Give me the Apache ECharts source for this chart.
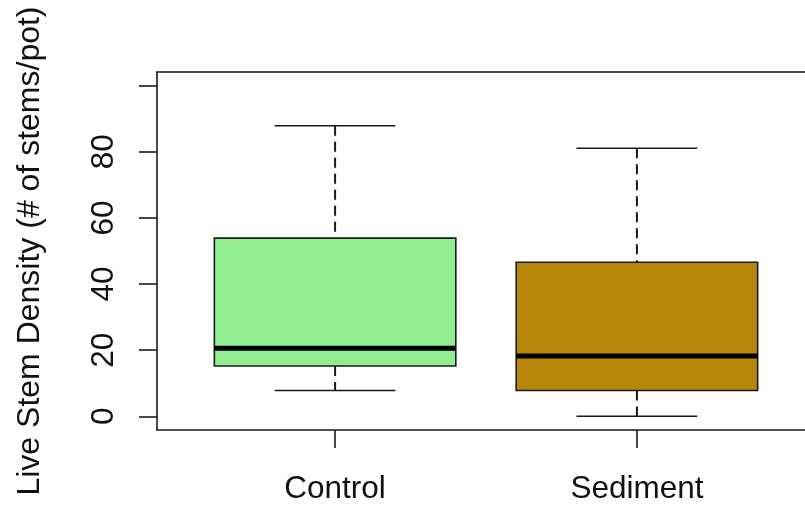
<!DOCTYPE html>
<html>
<head>
<meta charset="utf-8">
<script src="https://cdn.jsdelivr.net/npm/echarts@6/dist/echarts.min.js"></script>
<style>html,body{margin:0;padding:0;background:#fff;}#c{width:805px;height:508px;}</style>
</head>
<body>
<div id="c"></div>
<script>
const categories = ['Control', 'Sediment'];
const lowerWhisker = [7.8, 0];
const lowerQuartile = [15.2, 7.8];
const medians = [20.6, 18.2];
const upperQuartile = [53.9, 46.6];
const upperWhisker = [87.9, 81.1];
const fillColors = ['#90EE90', '#B8860B'];
const yTickValues = [0, 20, 40, 60, 80, 100];
const yLabelValues = [0, 20, 40, 60, 80];
const xPositions = [1, 2];
const yAxisTitle = 'Live Stem Density (# of stems/pot)';

const data = categories.map((c, i) => [xPositions[i], lowerWhisker[i], lowerQuartile[i], medians[i], upperQuartile[i], upperWhisker[i], i]);

const FONT = 'Liberation Sans, Arial, sans-serif';
const LINE = '#1a1a1a';

function renderItem(params, api) {
  const x = api.value(0);
  const lo = api.value(1), q1 = api.value(2), md = api.value(3), q3 = api.value(4), hi = api.value(5);
  const idx = api.value(6);
  const c = api.coord([x, md]);
  const boxW = api.size([0.8, 0])[0];
  const stapleW = boxW / 2;
  const yLo = api.coord([x, lo])[1];
  const yQ1 = api.coord([x, q1])[1];
  const yMd = c[1];
  const yQ3 = api.coord([x, q3])[1];
  const yHi = api.coord([x, hi])[1];
  const cx = c[0];
  return {
    type: 'group',
    children: [
      { type: 'line', shape: { x1: cx, y1: yHi, x2: cx, y2: yQ3 }, style: { stroke: LINE, lineWidth: 2, lineDash: [10, 6] } },
      { type: 'line', shape: { x1: cx, y1: yQ1, x2: cx, y2: yLo }, style: { stroke: LINE, lineWidth: 2, lineDash: [10, 6] } },
      { type: 'line', shape: { x1: cx - stapleW / 2, y1: yHi, x2: cx + stapleW / 2, y2: yHi }, style: { stroke: LINE, lineWidth: 1.6 } },
      { type: 'line', shape: { x1: cx - stapleW / 2, y1: yLo, x2: cx + stapleW / 2, y2: yLo }, style: { stroke: LINE, lineWidth: 1.6 } },
      { type: 'rect', shape: { x: cx - boxW / 2, y: yQ3, width: boxW, height: yQ1 - yQ3 }, style: { fill: fillColors[idx], stroke: LINE, lineWidth: 1.6 } },
      { type: 'line', shape: { x1: cx - boxW / 2, y1: yMd, x2: cx + boxW / 2, y2: yMd }, style: { stroke: '#000', lineWidth: 5 } }
    ]
  };
}

const axisLineStyle = { color: LINE, width: 1.6 };

const chart = echarts.init(document.getElementById('c'), null, { renderer: 'canvas' });
chart.setOption({
  animation: false,
  backgroundColor: '#fff',
  grid: { left: 157, top: 72, width: 658, height: 358, show: false, containLabel: false, outerBoundsMode: 'none' },
  xAxis: [{
    type: 'value', min: 0.41, max: 2.59, position: 'bottom',
    splitLine: { show: false },
    axisLine: { show: true, onZero: false, lineStyle: axisLineStyle },
    axisTick: { show: true, inside: false, length: 18, customValues: xPositions, lineStyle: axisLineStyle },
    axisLabel: { show: true, customValues: xPositions, margin: 43, fontSize: 31.5, fontFamily: FONT, color: '#111',
      formatter: v => categories[xPositions.indexOf(Math.round(v))] || '' }
  }, {
    type: 'value', min: 0.41, max: 2.59, position: 'top',
    splitLine: { show: false },
    axisLine: { show: true, onZero: false, lineStyle: axisLineStyle },
    axisTick: { show: false },
    axisLabel: { show: false }
  }],
  yAxis: {
    type: 'value', min: -4.16, max: 104.16,
    name: yAxisTitle, nameLocation: 'middle', nameRotate: 90, nameGap: 111,
    nameTextStyle: { fontSize: 32, fontFamily: FONT, color: '#111' },
    splitLine: { show: false },
    axisLine: { show: true, onZero: false, lineStyle: axisLineStyle },
    axisTick: { show: true, inside: false, length: 18, customValues: yTickValues, lineStyle: axisLineStyle },
    axisLabel: { show: true, customValues: yLabelValues, rotate: 90, margin: 37, fontSize: 31.5, fontFamily: FONT, color: '#111' }
  },
  series: [{
    type: 'custom',
    renderItem: renderItem,
    data: data,
    xAxisIndex: 0,
    encode: { x: 0, y: [1, 5] },
    clip: false
  }]
});
</script>
</body>
</html>
